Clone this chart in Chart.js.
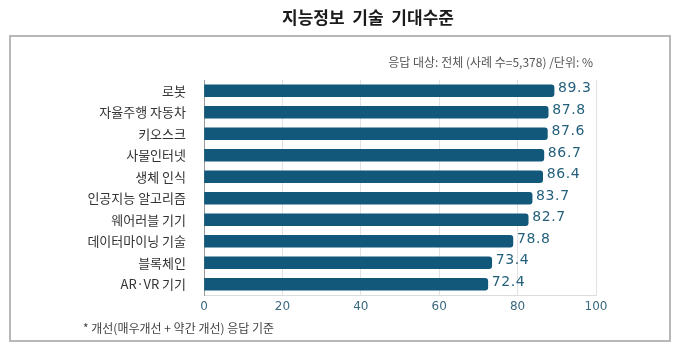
<!DOCTYPE html>
<html>
<head>
<meta charset="utf-8">
<script src="https://cdn.jsdelivr.net/npm/chart.js@4"></script>
<style>
  html, body { margin: 0; padding: 0; background: #fff; }
  #wrap { position: relative; width: 680px; height: 346px; }
</style>
</head>
<body>
<div id="wrap"><canvas id="chart" width="680" height="346"></canvas></div>
<script>
const categories = ["로봇", "자율주행 자동차", "키오스크", "사물인터넷", "생체 인식",
  "인공지능 알고리즘", "웨어러블 기기", "데이터마이닝 기술", "블록체인", "AR·VR 기기"];
const values = [89.3, 87.8, 87.6, 86.7, 86.4, 83.7, 82.7, 78.8, 73.4, 72.4];
const xTicks = [0, 20, 40, 60, 80, 100];

const titleText = "지능정보  기술  기대수준";
const noteText = "응답 대상: 전체 (사례 수=5,378) /단위: %";
const footText = "* 개선(매우개선 + 약간 개선) 응답 기준";

const KR = '"Noto Sans CJK KR", "Noto Sans", sans-serif';
const NUM = '"DejaVu Sans", sans-serif';

// frame, title and notes around the plot
const decor = {
  id: "decor",
  beforeDraw(chart) {
    const ctx = chart.ctx;
    ctx.save();
    ctx.strokeStyle = "#b8b8b8";
    ctx.lineWidth = 2;
    ctx.strokeRect(10, 36, 660, 305);

    ctx.fillStyle = "#1a1a1a";
    ctx.font = "bold 17px " + KR;
    ctx.textAlign = "center";
    ctx.textBaseline = "middle";
    ctx.fillText(titleText, 368, 18);

    ctx.fillStyle = "#555";
    ctx.font = "12px " + KR;
    ctx.textAlign = "right";
    ctx.fillText(noteText, 593, 62);

    ctx.fillStyle = "#444";
    ctx.textAlign = "left";
    ctx.fillText(footText, 83, 328);
    ctx.restore();
  }
};

// value text at the end of each bar
const barValues = {
  id: "barValues",
  afterDatasetsDraw(chart) {
    const ctx = chart.ctx;
    const meta = chart.getDatasetMeta(0);
    ctx.save();
    ctx.fillStyle = "#24607c";
    ctx.font = "14px " + NUM;
    ctx.letterSpacing = "0.6px";
    ctx.textAlign = "left";
    ctx.textBaseline = "middle";
    meta.data.forEach((bar, i) => {
      ctx.fillText(values[i].toFixed(1), bar.x + 4, bar.y - 2);
    });
    ctx.restore();
  }
};

new Chart(document.getElementById("chart"), {
  type: "bar",
  data: {
    labels: categories,
    datasets: [{
      data: values,
      backgroundColor: "#11587a",
      barThickness: 12,
      borderRadius: 3,
      borderSkipped: "start"
    }]
  },
  options: {
    indexAxis: "y",
    responsive: false,
    animation: false,
    layout: { padding: { left: 0, right: 84, top: 80, bottom: 26 } },
    plugins: {
      legend: { display: false },
      tooltip: { enabled: false }
    },
    scales: {
      x: {
        min: 0,
        max: 100,
        afterBuildTicks(scale) {
          scale.ticks = xTicks.map(v => ({ value: v }));
        },
        afterFit(scale) { scale.height = 25; },
        grid: { color: "#e2e2e2", drawTicks: false },
        border: { color: "#dcdcdc" },
        ticks: {
          color: "#3c6a80",
          font: { size: 12, family: NUM },
          padding: 5
        }
      },
      y: {
        afterFit(scale) { scale.width = 204; },
        grid: { display: false },
        border: { color: "#9a9a9a", width: 1 },
        ticks: {
          color: "#333",
          font: { size: 13, family: KR },
          padding: 10
        }
      }
    }
  },
  plugins: [decor, barValues]
});
</script>
</body>
</html>
